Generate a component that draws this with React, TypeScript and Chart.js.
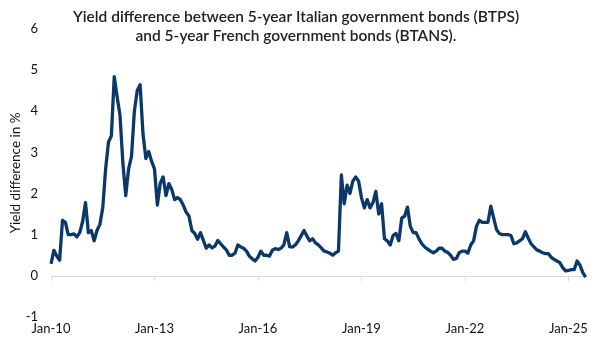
import React, { useEffect, useRef } from "react";
import { Chart, registerables } from "chart.js";

Chart.register(...registerables);

const TITLE_LINES = [
  "Yield difference between 5-year Italian government bonds (BTPS)",
  "and 5-year French government bonds (BTANS).",
];
const Y_TITLE = "Yield difference in %";
const MONTHS = ["Jan", "Feb", "Mar", "Apr", "May", "Jun", "Jul", "Aug", "Sep", "Oct", "Nov", "Dec"];
const FIRST_YEAR = 10; // 2010
const TICK_EVERY = 36; // a label every 3 years

// Monthly spread BTP - BTAN (percentage points)
const spread2010to2012 = [
  0.29, 0.62, 0.48, 0.38, 1.35, 1.3, 1.0, 1.0, 1.02, 0.95, 1.05, 1.32,
  1.78, 1.05, 1.1, 0.85, 1.1, 1.25, 1.65, 2.6, 3.25, 3.4, 4.84, 4.35,
  3.9, 2.74, 1.95, 2.6, 2.9, 4.0, 4.5, 4.64, 3.45, 2.85, 3.02, 2.78,
];
const spread2013to2015 = [
  2.6, 1.72, 2.25, 2.4, 1.95, 2.24, 2.1, 1.85, 1.9, 1.85, 1.72, 1.55,
  1.45, 1.1, 1.03, 0.89, 1.05, 0.86, 0.67, 0.75, 0.68, 0.72, 0.86, 0.78,
  0.7, 0.63, 0.5, 0.5, 0.55, 0.75, 0.7, 0.67, 0.6, 0.48, 0.41, 0.36,
];
const spread2016to2018 = [
  0.45, 0.6, 0.5, 0.5, 0.48, 0.62, 0.66, 0.64, 0.67, 0.75, 1.05, 0.71,
  0.7, 0.75, 0.85, 0.97, 1.1, 0.97, 0.85, 0.9, 0.8, 0.75, 0.68, 0.6,
  0.58, 0.55, 0.5, 0.56, 0.6, 2.45, 1.75, 2.2, 2.0, 2.3, 2.4, 2.3,
];
const spread2019to2021 = [
  1.9, 1.65, 1.85, 1.65, 1.78, 2.05, 1.5, 1.75, 0.9, 0.85, 0.75, 0.98,
  1.03, 0.85, 1.4, 1.45, 1.67, 1.2, 1.05, 1.05, 0.9, 0.78, 0.7, 0.65,
  0.6, 0.56, 0.6, 0.67, 0.67, 0.6, 0.57, 0.5, 0.4, 0.42, 0.56, 0.6,
];
const spread2022to2024 = [
  0.6, 0.55, 0.75, 0.85, 1.2, 1.35, 1.3, 1.3, 1.3, 1.69, 1.4, 1.12,
  1.03, 1.0, 1.0, 1.0, 0.98, 0.78, 0.8, 0.85, 0.9, 1.07, 0.92, 0.78,
  0.7, 0.63, 0.6, 0.56, 0.54, 0.54, 0.45, 0.4, 0.36, 0.32, 0.2, 0.12,
];
const spread2025 = [0.13, 0.15, 0.15, 0.36, 0.26, 0.08, -0.03];

const values = [
  ...spread2010to2012,
  ...spread2013to2015,
  ...spread2016to2018,
  ...spread2019to2021,
  ...spread2022to2024,
  ...spread2025,
];
const categories = values.map(
  (_, i) => `${MONTHS[i % 12]}-${String(FIRST_YEAR + Math.floor(i / 12)).padStart(2, "0")}`
);

const Y_MIN = -1;
const Y_MAX = 6;

const LINE_COLOR = "#0b386b";
const AXIS_COLOR = "#d9d9d9";
const FONT = "Lato, 'Noto Sans', sans-serif";

const overlayPlugin = {
  id: "overlay",
  beforeDatasetsDraw(chart: any) {
    const { ctx, scales } = chart;
    const x = scales.x;
    const y = scales.y;
    const y0 = y.getPixelForValue(0);
    ctx.save();
    ctx.strokeStyle = AXIS_COLOR;
    ctx.lineWidth = 1;
    ctx.beginPath();
    ctx.moveTo(x.left, Math.round(y0) + 0.5);
    ctx.lineTo(x.right, Math.round(y0) + 0.5);
    for (let i = 0; i < categories.length; i += TICK_EVERY) {
      const px = Math.round(x.getPixelForValue(i)) + 0.5;
      ctx.moveTo(px, Math.round(y0));
      ctx.lineTo(px, Math.round(y0) + 5);
    }
    ctx.stroke();
    ctx.restore();
  },
  afterDraw(chart: any) {
    const { ctx, width } = chart;
    ctx.save();
    ctx.fillStyle = "#222222";
    ctx.font = `600 15.5px ${FONT}`;
    ctx.textAlign = "center";
    ctx.textBaseline = "middle";
    TITLE_LINES.forEach((line, k) => {
      ctx.fillText(line, width / 2 - 4, 9 + k * 18.5);
    });
    ctx.restore();
  },
};

export default function App() {
  const canvasRef = useRef<HTMLCanvasElement | null>(null);

  useEffect(() => {
    if (!canvasRef.current) return;
    const chart = new Chart(canvasRef.current, {
      type: "line",
      data: {
        labels: categories,
        datasets: [
          {
            data: values,
            borderColor: LINE_COLOR,
            borderWidth: 3.3,
            pointRadius: 0,
            tension: 0,
            borderJoinStyle: "round",
            fill: false,
          },
        ],
      },
      options: {
        animation: false,
        responsive: true,
        maintainAspectRatio: false,
        layout: { padding: { top: 15, right: 4, left: 0, bottom: 0 } },
        plugins: {
          legend: { display: false },
          tooltip: { enabled: false },
          title: { display: false },
        },
        scales: {
          x: {
            type: "category",
            offset: false,
            grid: { display: false, drawTicks: false },
            border: { display: false },
            ticks: {
              autoSkip: false,
              maxRotation: 0,
              padding: 4,
              color: "#111111",
              font: { family: FONT, size: 13 },
            },
            afterBuildTicks: (scale: any) => {
              scale.ticks = scale.ticks.filter((t: any) => t.value % TICK_EVERY === 0);
            },
            afterFit: (scale: any) => {
              scale.height = 25;
            },
          },
          y: {
            min: Y_MIN,
            max: Y_MAX,
            grid: { display: false, drawTicks: false },
            border: { display: false },
            ticks: {
              stepSize: 1,
              padding: 13,
              color: "#111111",
              font: { family: FONT, size: 13 },
            },
            title: {
              display: true,
              text: Y_TITLE,
              color: "#111111",
              font: { family: FONT, size: 13.5 },
              padding: { top: 0, bottom: 0 },
            },
            afterFit: (scale: any) => {
              scale.width = 43;
            },
          },
        },
      },
      plugins: [overlayPlugin],
    });
    return () => chart.destroy();
  }, []);

  return (
    <div style={{ width: 584, height: 334, position: "relative" }}>
      <canvas ref={canvasRef} />
    </div>
  );
}
